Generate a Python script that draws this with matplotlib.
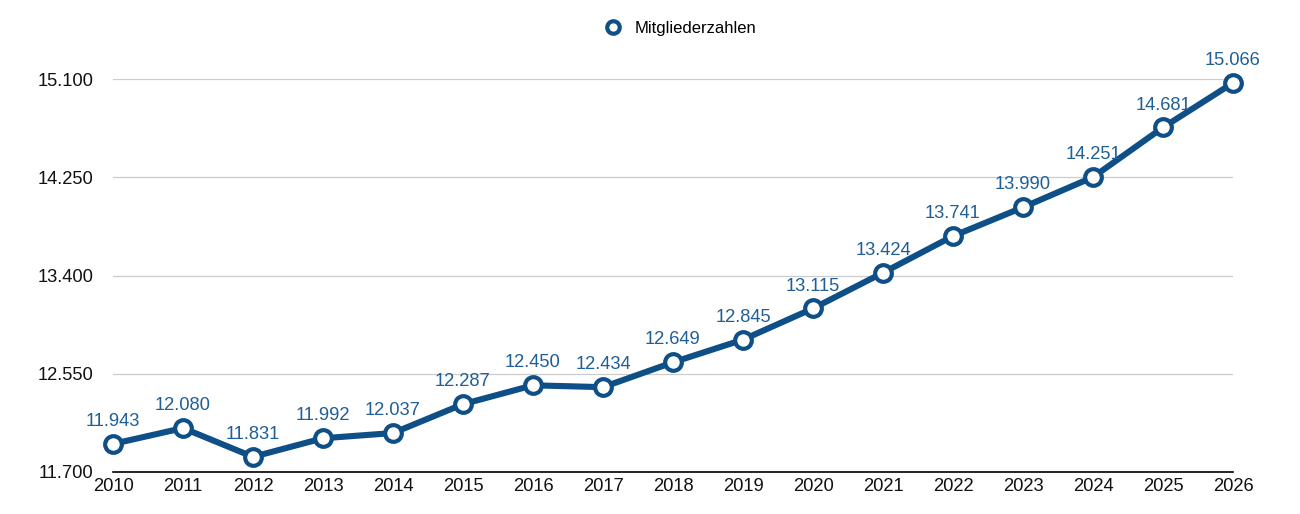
import matplotlib
matplotlib.use("Agg")
import matplotlib.pyplot as plt
from matplotlib.lines import Line2D

years = list(range(2010, 2027))
values = [11943, 12080, 11831, 11992, 12037, 12287, 12450, 12434, 12649,
          12845, 13115, 13424, 13741, 13990, 14251, 14681, 15066]
yticks = [11700, 12550, 13400, 14250, 15100]
series_name = "Mitgliederzahlen"

def fmt(v):
    return f"{v:,}".replace(",", ".")

plt.rcParams['font.family'] = ['Liberation Sans', 'DejaVu Sans']

line_color = "#0d4f86"
label_color = "#1f5f96"

fig = plt.figure(figsize=(13, 5.14), dpi=100)
ax = fig.add_axes([113/1300, 42/514, 1120/1300, 393/514])

ax.plot(years, values, color=line_color, lw=4.4, marker="o", ms=12,
        mfc="white", mec=line_color, mew=3.0, clip_on=False, zorder=3)
for x, v in zip(years, values):
    ax.annotate(fmt(v), (x, v), xytext=(0, 10), textcoords="offset points",
                ha="center", va="bottom", color=label_color, fontsize=13.2)

ax.set_xlim(2010, 2026)
ax.set_ylim(11700, 15100)
ax.set_yticks(yticks)
ax.set_yticklabels([fmt(t) for t in yticks])
ax.set_xticks(years)
ax.set_xticklabels([str(y) for y in years])
ax.grid(axis="y", color="#cccccc", lw=0.9)
ax.set_axisbelow(True)
for s in ["top", "right", "left"]:
    ax.spines[s].set_visible(False)
ax.spines["bottom"].set_color("#000000")
ax.spines["bottom"].set_linewidth(1.2)
ax.tick_params(axis="both", length=0, labelsize=13.2, colors="#111111")
ax.tick_params(axis="y", pad=14)
ax.tick_params(axis="x", pad=4)

handle = Line2D([], [], color=line_color, lw=0, marker="o", ms=9,
                mfc="white", mec=line_color, mew=3.0)
fig.legend([handle], [series_name], loc="center", bbox_to_anchor=(0.52, 0.945),
           frameon=False, fontsize=12, handletextpad=0.3)

fig.savefig("out.png", dpi=100)
